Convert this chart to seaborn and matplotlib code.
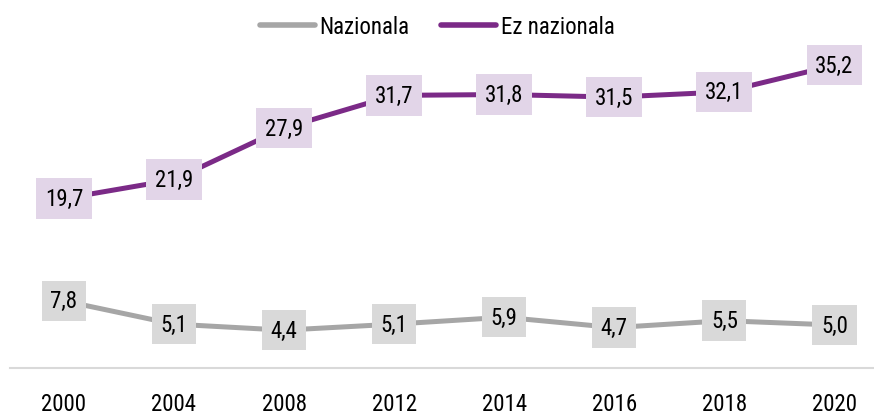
import pandas as pd
import matplotlib
matplotlib.use("Agg")
import matplotlib.pyplot as plt
import seaborn as sns

years = ["2000", "2004", "2008", "2012", "2014", "2016", "2018", "2020"]
nazionala = [7.8, 5.1, 4.4, 5.1, 5.9, 4.7, 5.5, 5.0]
ez_nazionala = [19.7, 21.9, 27.9, 31.7, 31.8, 31.5, 32.1, 35.2]

series_names = ["Nazionala", "Ez nazionala"]
line_colors = ["#A6A6A6", "#7B2A87"]
box_colors = ["#D9D9D9", "#E2D5E8"]

sns.set_style("white")
plt.rcParams['font.family'] = ['Roboto Condensed', 'DejaVu Sans']
plt.rcParams['font.stretch'] = 'condensed'

rows = []
for name, vals in zip(series_names, [nazionala, ez_nazionala]):
    for i, v in enumerate(vals):
        rows.append({"pos": i, "year": years[i], "value": v, "serie": name})
df = pd.DataFrame(rows)

fig = plt.figure(figsize=(8.74, 4.14), dpi=100)
ax = fig.add_axes([10 / 874, 45 / 414, 864 / 874, 344 / 414])

sns.lineplot(data=df, x="pos", y="value", hue="serie", hue_order=series_names,
             palette=line_colors, linewidth=3.6, ax=ax, legend=False,
             solid_capstyle="butt")

# value labels in boxes
for name, lc, bc in zip(series_names, line_colors, box_colors):
    sub = df[df["serie"] == name]
    for _, r in sub.iterrows():
        ax.text(r["pos"], r["value"], f"{r['value']:.1f}".replace(".", ","),
                ha="center", va="center", fontsize=16.5, color="black", zorder=5,
                bbox=dict(boxstyle="square,pad=0.38", fc=bc, ec="none"))

ax.set_xlim(-0.49, 7.36)
ax.set_ylim(0, 40)
ax.set_xticks(range(len(years)))
ax.set_xticklabels(years, fontsize=16.5, color="black")
ax.set_yticks([])
ax.set_xlabel("")
ax.set_ylabel("")
ax.tick_params(axis="x", length=0, pad=17)
for s in ["top", "left", "right"]:
    ax.spines[s].set_visible(False)
ax.spines["bottom"].set_color("#D9D9D9")
ax.spines["bottom"].set_linewidth(1.5)

# legend
handles = [plt.Line2D([0], [0], color=c, lw=4, solid_capstyle="round") for c in line_colors]
fig.legend(handles, series_names, loc="upper center", bbox_to_anchor=(0.5, 1.0),
           ncol=2, frameon=False, fontsize=16.5, handlelength=2.4, handletextpad=0.2,
           columnspacing=1.4, borderaxespad=0.3, labelcolor="black")

fig.savefig("out.png", dpi=100)
